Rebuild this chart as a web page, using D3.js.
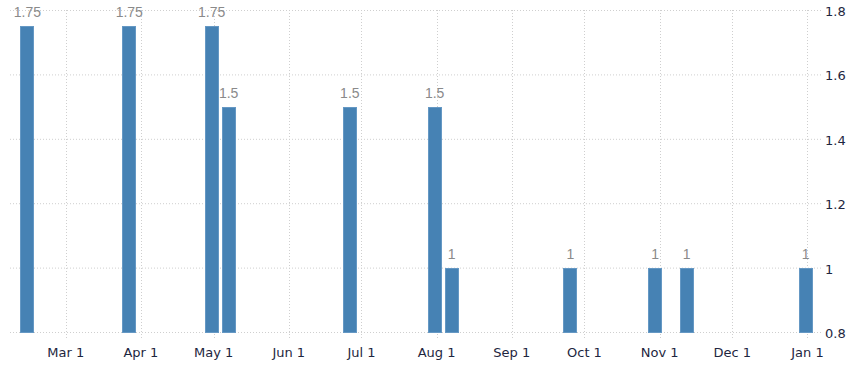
<!DOCTYPE html>
<meta charset="utf-8">
<style>
body{ margin:0; background:#fff; }
text{ font-family:"DejaVu Sans", sans-serif; font-size:13px; }
.grid line{ stroke:#cfcfcf; stroke-dasharray:1,2; }
.xlab{ fill:#1e2640; text-anchor:middle; }
.ylab{ fill:#1e2640; }
.val{ fill:#8a8a8a; text-anchor:middle; font-family:"Liberation Sans", Arial, sans-serif; font-size:14px; }
.bar{ fill:#4682b4; stroke:#6598c4; stroke-width:1; }
</style>
<body>
<script src="https://d3js.org/d3.v7.min.js"></script>
<script>
// rate decisions (date, value)
var dates = ["2019-02-13","2019-03-27","2019-04-30","2019-05-07","2019-06-26",
             "2019-07-31","2019-08-07","2019-09-25","2019-10-30","2019-11-12","2019-12-31"];
var values = [1.75, 1.75, 1.75, 1.5, 1.5, 1.5, 1, 1, 1, 1, 1];
var yTicks = [0.8, 1, 1.2, 1.4, 1.6, 1.8];
var xDomain = ["2019-02-06", "2020-01-07"];

var parse = d3.timeParse("%Y-%m-%d");
var data = dates.map(function(d, i){ return {date: parse(d), value: values[i]}; });

var W = 865, H = 371;
var svg = d3.select("body").append("svg").attr("width", W).attr("height", H);

var x = d3.scaleTime().domain(xDomain.map(parse)).range([10, 822]);
var y = d3.scaleLinear().domain([0.8, 1.8]).range([332, 10]);
var barW = 13;

var xTicks = d3.timeMonth.range(parse("2019-03-01"), parse("2020-01-02"));

// grid
var grid = svg.append("g").attr("class", "grid");
grid.selectAll(".h").data(yTicks).enter().append("line")
  .attr("x1", x.range()[0]).attr("x2", x.range()[1])
  .attr("y1", d => y(d) + 0.5).attr("y2", d => y(d) + 0.5);
grid.selectAll(".v").data(xTicks).enter().append("line")
  .attr("x1", d => Math.round(x(d)) + 0.5).attr("x2", d => Math.round(x(d)) + 0.5)
  .attr("y1", y(1.8)).attr("y2", y(0.8) + 6);

// bars
svg.selectAll(".bar").data(data).enter().append("rect")
  .attr("class", "bar")
  .attr("x", d => Math.round(x(d.date) - barW / 2) + 0.5)
  .attr("y", d => Math.round(y(d.value)) + 0.5)
  .attr("width", barW)
  .attr("height", d => y(0.8) - Math.round(y(d.value)));

// value labels
svg.selectAll(".val").data(data).enter().append("text")
  .attr("class", "val")
  .attr("x", d => x(d.date) + 0.5)
  .attr("y", d => y(d.value) - 9)
  .text(d => d3.format("")(d.value));

// x labels
svg.selectAll(".xlab").data(xTicks).enter().append("text")
  .attr("class", "xlab")
  .attr("x", d => x(d))
  .attr("y", 357)
  .text(d3.timeFormat("%b %-d"));

// y labels
svg.selectAll(".ylab").data(yTicks).enter().append("text")
  .attr("class", "ylab")
  .attr("x", 825)
  .attr("y", d => y(d) + 6)
  .text(d => d3.format("")(+d.toFixed(1)));
</script>
</body>
